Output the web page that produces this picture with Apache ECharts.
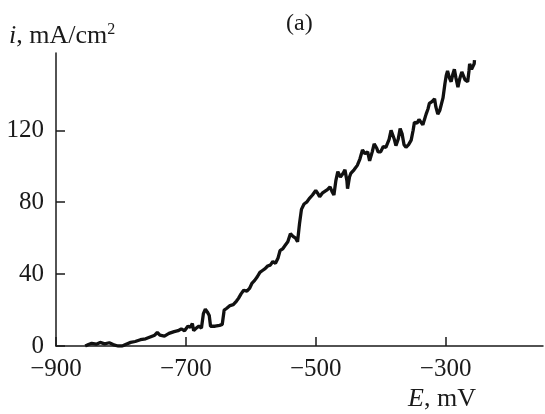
<!DOCTYPE html>
<html>
<head>
<meta charset="utf-8">
<script src="https://cdn.jsdelivr.net/npm/echarts@6/dist/echarts.min.js"></script>
<style>
  html, body { margin: 0; padding: 0; background: #fff; }
  #chart { width: 545px; height: 414px; }
</style>
</head>
<body>
<div id="chart"></div>
<script>
// potential, mV
const potential = [
  -855, -850, -845, -838, -832, -825, -818, -812, -805, -798,
  -792, -785, -778, -770, -762, -755, -748, -744, -740, -733,
  -726, -718, -712, -707, -702, -697, -693, -690, -688, -684,
  -680, -676, -673, -670, -667, -664, -662, -655, -648, -644,
  -641, -637, -632, -627, -622, -619, -615, -611, -606, -602,
  -598, -594, -590, -586, -582, -578, -574, -570, -566, -562,
  -558, -555, -551, -547, -543, -539, -535, -531, -528, -525,
  -522, -518, -514, -510, -505, -500, -497, -494, -490, -486,
  -482, -478, -475, -472, -469, -466, -462, -458, -455, -452,
  -451, -448, -446, -441, -436, -432, -428, -424, -420, -417,
  -413, -410, -406, -404, -400, -396, -392, -387, -384, -382,
  -379, -376.5, -373, -370, -367, -364, -361, -357, -353, -350,
  -348, -344, -341, -338, -335, -333, -330, -327, -325, -321,
  -317, -315, -312, -309, -307, -304, -301, -299, -297, -294,
  -291.5, -289, -286.5, -284, -281, -278, -275, -273, -270, -266,
  -264, -263, -260, -258, -256, -255.5
]
// current density, mA/cm2
const current = [
  0, 0.8, 1.5, 1, 2, 1.2, 1.8, 0.8, 0, 0,
  1, 2, 2.5, 3.5, 4, 5, 6, 7.5, 6, 5.5,
  7, 8, 8.5, 9.5, 8.5, 11, 10.5, 12.5, 8.5, 10,
  11, 10, 18, 20.5, 19, 17, 11, 11, 11.5, 12,
  20, 21, 22.5, 23, 25, 26.5, 29, 31, 30.5, 32,
  35, 36.5, 38.5, 41, 42, 43, 44.5, 45, 47, 46,
  49, 53, 54, 56, 58, 62.5, 61, 60, 58, 68,
  76, 79, 80, 82, 84, 86.5, 85, 83, 85, 86,
  87, 88.5, 86, 84, 92, 97, 94, 96, 98, 92,
  87.5, 94, 96, 98, 100.5, 104, 109, 107, 108, 103,
  108, 112.5, 110, 108, 108, 111, 110.5, 115, 120, 121,
  115, 111.5, 115, 121, 118, 112, 110.5, 112, 114.5, 120,
  124.5, 124, 126, 127, 123, 125.5, 129, 132, 135, 136,
  137.5, 133, 129, 131, 132, 138, 146, 150.5, 153, 149,
  147, 151, 154, 149, 144, 149, 152.5, 152, 148, 147,
  153, 157, 154, 153, 157, 159
]
const xTicks = [-900, -700, -500, -300]
const yTicks = [0, 40, 80, 120]

const chart = echarts.init(document.getElementById('chart'))
const font = 'Liberation Serif'
const ink = '#1a1a1a'

chart.setOption({
  animation: false,
  backgroundColor: '#fff',
  grid: { left: 56, right: 2, top: 53, bottom: 68 },
  xAxis: {
    type: 'value',
    min: -900,
    max: -150,
    axisLine: { onZero: false, lineStyle: { color: ink, width: 1.5 } },
    axisTick: { inside: true, length: 9, customValues: xTicks, lineStyle: { color: ink, width: 1.5 } },
    axisLabel: {
      customValues: xTicks,
      margin: 11,
      fontFamily: font,
      fontSize: 25,
      color: ink,
      formatter: v => (v < 0 ? '\u2212' : '') + Math.abs(v)
    },
    splitLine: { show: false }
  },
  yAxis: {
    type: 'value',
    min: 0,
    max: 163,
    axisLine: { show: true, lineStyle: { color: ink, width: 1.5 } },
    axisTick: { show: true, inside: true, length: 9, customValues: yTicks, lineStyle: { color: ink, width: 1.5 } },
    axisLabel: { customValues: yTicks, margin: 12, fontFamily: font, fontSize: 25, color: ink },
    splitLine: { show: false }
  },
  graphic: [
    {
      type: 'text', left: 9, top: 22,
      style: {
        text: '{it|i}, mA/cm{sup|2}',
        fontFamily: font, fontSize: 26, fill: ink,
        rich: {
          it: { fontStyle: 'italic', fontFamily: font, fontSize: 26 },
          sup: { fontFamily: font, fontSize: 16, verticalAlign: 'top', padding: [0, 0, 12, 0] }
        }
      }
    },
    {
      type: 'text', left: 286, top: 12,
      style: { text: '(a)', fontFamily: font, fontSize: 24, fill: ink }
    },
    {
      type: 'text', right: 69, top: 386,
      style: {
        text: '{it|E}, mV',
        fontFamily: font, fontSize: 26, fill: ink,
        rich: { it: { fontStyle: 'italic', fontFamily: font, fontSize: 26 } }
      }
    }
  ],
  series: [{
    type: 'line',
    data: potential.map((e, i) => [e, current[i]]),
    showSymbol: false,
    smooth: false,
    lineStyle: { color: '#111', width: 3.3 }
  }]
})
</script>
</body>
</html>
